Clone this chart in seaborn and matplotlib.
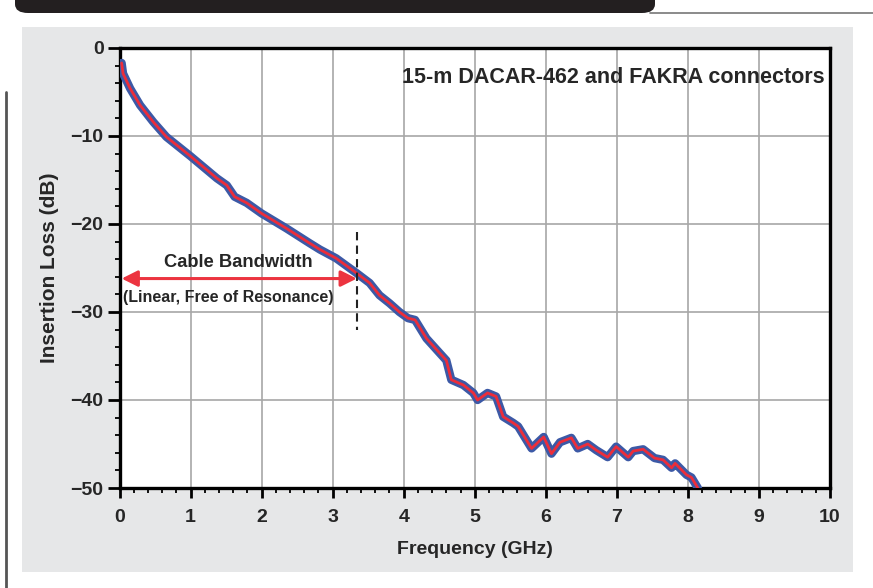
import matplotlib
matplotlib.use("Agg")
import matplotlib.pyplot as plt
from matplotlib.patches import Rectangle, FancyBboxPatch
from matplotlib.lines import Line2D
import seaborn as sns
import pandas as pd
import numpy as np

freq_ghz = [0.03, 0.05, 0.15, 0.29, 0.475, 0.66, 1.0, 1.37, 1.51, 1.62, 1.79, 2.0, 2.35, 2.68,
            2.82, 3.05, 3.34, 3.52, 3.66, 3.80, 3.94, 4.06, 4.16, 4.32, 4.51, 4.60, 4.67,
            4.84, 4.98, 5.04, 5.18, 5.30, 5.40, 5.54, 5.61, 5.80, 5.97, 6.08, 6.20, 6.36,
            6.45, 6.59, 6.71, 6.87, 6.99, 7.16, 7.23, 7.37, 7.53, 7.65, 7.77, 7.82, 7.98,
            8.05, 8.14]
loss_db = [-1.7, -2.9, -4.6, -6.5, -8.4, -10.1, -12.3, -14.8, -15.6, -16.9, -17.6, -18.8, -20.5, -22.2,
           -22.9, -23.9, -25.6, -26.7, -28.1, -29.0, -30.0, -30.7, -30.9, -33.0, -34.7, -35.5, -37.7,
           -38.3, -39.2, -40.0, -39.2, -39.6, -41.9, -42.6, -43.0, -45.5, -44.2, -46.1, -44.8, -44.3,
           -45.5, -45.0, -45.7, -46.5, -45.3, -46.5, -45.8, -45.6, -46.6, -46.8, -47.7, -47.2, -48.5,
           -48.8, -50.0]

x_ticks = [0, 1, 2, 3, 4, 5, 6, 7, 8, 9, 10]
y_ticks = [0, -10, -20, -30, -40, -50]
y_tick_labels = ["0", "\u221210", "\u221220", "\u221230", "\u221240", "\u221250"]

title_text = "15-m DACAR-462 and FAKRA connectors"
band_label = "Cable Bandwidth"
band_sub = "(Linear, Free of Resonance)"
band_start, band_end, band_level = 0.03, 3.34, -26.2
marker_x, marker_y0, marker_y1 = 3.34, -20.9, -32.0

sns.set_style("white")
plt.rcParams['font.family'] = ['Liberation Sans', 'DejaVu Sans']
plt.rcParams['font.weight'] = 'bold'

W, H = 873, 588
fig = plt.figure(figsize=(W / 100, H / 100), dpi=100)
fig.patch.set_facecolor("white")

# gray panel
fig.patches.append(Rectangle((22 / W, 1 - 572 / H), (853 - 22) / W, (572 - 27) / H,
                             transform=fig.transFigure, facecolor="#e6e7e8", edgecolor="none", zorder=-10))
# top dark bar
fig.patches.append(FancyBboxPatch((15 / W, 1 - 13 / H), (655 - 15) / W, 40 / H,
                                  boxstyle="round,pad=0,rounding_size=0.015",
                                  transform=fig.transFigure, facecolor="#231f20", edgecolor="none", zorder=-5))
fig.lines.append(Line2D([650 / W, 1.0], [1 - 13 / H, 1 - 13 / H], transform=fig.transFigure,
                        color="#777777", lw=1.2, zorder=-5))
# left vertical rule
fig.lines.append(Line2D([6 / W, 6 / W], [0, 1 - 92 / H], transform=fig.transFigure,
                        color="#555555", lw=2, zorder=-5))

ax = fig.add_axes([119.5 / W, 1 - 488 / H, (830 - 119.5) / W, (488 - 48) / H])
ax.set_zorder(10)
ax.set_facecolor("white")

df = pd.DataFrame({"Frequency": freq_ghz, "Loss": loss_db})
sns.lineplot(data=df, x="Frequency", y="Loss", ax=ax, color="#3c59a6", lw=6,
             solid_capstyle="round", solid_joinstyle="round", zorder=4)
sns.lineplot(data=df, x="Frequency", y="Loss", ax=ax, color="#ec2d3a", lw=2,
             solid_joinstyle="round", zorder=5)

ax.set_xlim(0, 10)
ax.set_ylim(-50, 0)
ax.set_xticks(x_ticks)
ax.set_xticklabels([str(t) for t in x_ticks])
ax.set_yticks(y_ticks)
ax.set_yticklabels(y_tick_labels)
ax.set_xticks(np.arange(0, 10.01, 0.2), minor=True)
ax.set_yticks(np.arange(-50, 0.01, 2), minor=True)
ax.grid(True, which="major", color="#a7a7a7", lw=1.2, zorder=1)
ax.tick_params(bottom=True, left=True, top=False, right=False, which="both")
ax.tick_params(axis="x", which="major", direction="out", length=7, width=2, color="black",
               labelsize=14, pad=8)
ax.tick_params(axis="y", which="major", direction="out", length=8.5, width=2, color="black",
               labelsize=14, pad=3)
ax.tick_params(axis="both", which="minor", direction="out", length=3.6, width=1.3, color="black")
for lab in ax.get_xticklabels() + ax.get_yticklabels():
    lab.set_fontweight("bold")
for s in ax.spines.values():
    s.set_visible(True)
    s.set_linewidth(2.4)
    s.set_color("black")

ax.set_xlabel("Frequency (GHz)", fontsize=14, fontweight="bold", labelpad=11)
ax.set_ylabel("Insertion Loss (dB)", fontsize=15, fontweight="bold", labelpad=8)

ax.text(9.93, -3.4, title_text, ha="right", va="center", fontsize=15.5, fontweight="bold", zorder=6)

ax.annotate("", xy=(band_start, band_level), xytext=(band_end, band_level),
            arrowprops=dict(arrowstyle="<|-|>", color="#ec3440", lw=2.2, mutation_scale=24,
                            shrinkA=0, shrinkB=0), zorder=6)
ax.text(1.67, -24.4, band_label, ha="center", va="center", fontsize=13.2, fontweight="bold", zorder=6)
ax.text(1.53, -28.4, band_sub, ha="center", va="center", fontsize=11.5, fontweight="bold", zorder=6)
ax.plot([marker_x, marker_x], [marker_y0, marker_y1], color="#222222", lw=1.5, ls=(0, (4, 2.5)), zorder=6)

fig.savefig("out.png", dpi=100)
